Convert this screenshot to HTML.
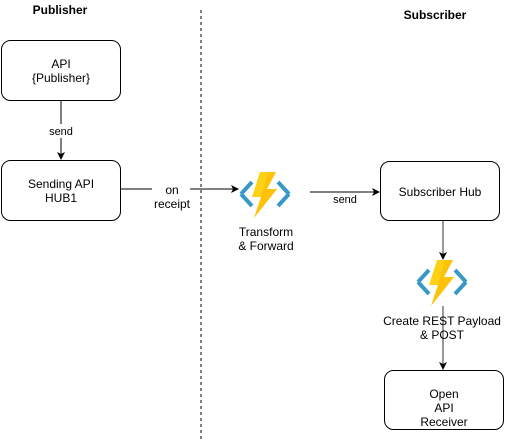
<!DOCTYPE html>
<html><head><style>
body{margin:0;background:#fff;}
svg{display:block;font-family:"Liberation Sans",Arial,sans-serif;}
</style></head><body>
<svg width="505" height="442" viewBox="0 0 505 442" xmlns="http://www.w3.org/2000/svg">
<defs>
<marker id="a" markerWidth="8" markerHeight="8" refX="7" refY="4" orient="auto" markerUnits="userSpaceOnUse"><path d="M0,0 L8,4 L0,8 L2,4 Z" fill="#000"/></marker>
<g id="fn">
<path d="M1,23 L12,11 M1,23 L12,35 M49,23 L38,11 M49,23 L38,35" stroke="#3999c6" stroke-width="4" fill="none"/>
<path d="M20,1 L36,1 L27,18 L37,18 L14,47 L21,26 L12,26 Z" fill="#fcd116"/>
<path d="M28,1 L36,1 L27,18 L37,18 L14,47 L21,26 Z" fill="#ffb900" opacity="0.6"/>
</g>
</defs>
<text x="60" y="14" font-size="12" font-weight="bold" text-anchor="middle">Publisher</text>
<text x="435" y="19" font-size="12" font-weight="bold" text-anchor="middle">Subscriber</text>
<line x1="201" y1="10" x2="201" y2="442" stroke="#000" stroke-dasharray="3,3"/>
<rect x="1.5" y="40.5" width="119" height="60" rx="9" fill="#fff" stroke="#000"/>
<text font-size="12" text-anchor="middle"><tspan x="61" y="68">API</tspan><tspan x="61" y="82">{Publisher}</tspan></text>
<line x1="61" y1="100" x2="61" y2="159" stroke="#000" marker-end="url(#a)"/>
<rect x="44" y="124" width="34" height="14" fill="#fff"/>
<text x="61" y="135" font-size="11" text-anchor="middle">send</text>
<rect x="1.5" y="160.5" width="119" height="60" rx="9" fill="#fff" stroke="#000"/>
<text font-size="12" text-anchor="middle"><tspan x="61" y="188">Sending API</tspan><tspan x="61" y="202">HUB1</tspan></text>
<line x1="120" y1="189" x2="152" y2="189" stroke="#000"/>
<line x1="190" y1="189" x2="238" y2="189" stroke="#000" marker-end="url(#a)"/>
<text font-size="12" text-anchor="middle"><tspan x="172" y="194">on</tspan><tspan x="172" y="208">receipt</tspan></text>
<use href="#fn" x="240" y="171"/>
<text font-size="12" text-anchor="middle"><tspan x="266" y="236">Transform</tspan><tspan x="266" y="250">&amp; Forward</tspan></text>
<line x1="310" y1="192" x2="379" y2="192" stroke="#000" marker-end="url(#a)"/>
<text x="345" y="203" font-size="11" text-anchor="middle">send</text>
<rect x="380.5" y="161.5" width="119" height="59" rx="9" fill="#fff" stroke="#000"/>
<text x="440" y="196" font-size="12" text-anchor="middle">Subscriber Hub</text>
<line x1="443" y1="221" x2="443" y2="259" stroke="#333" marker-end="url(#a)"/>
<use href="#fn" x="417" y="259"/>
<line x1="443" y1="306" x2="443" y2="369" stroke="#333" marker-end="url(#a)"/>
<text font-size="12" text-anchor="middle"><tspan x="442" y="325">Create REST Payload</tspan><tspan x="442" y="339">&amp; POST</tspan></text>
<rect x="384.5" y="370.5" width="119" height="59" rx="9" fill="#fff" stroke="#000"/>
<text font-size="12" text-anchor="middle"><tspan x="444" y="398">Open</tspan><tspan x="444" y="412">API</tspan><tspan x="444" y="426">Receiver</tspan></text>
</svg>
</body></html>
